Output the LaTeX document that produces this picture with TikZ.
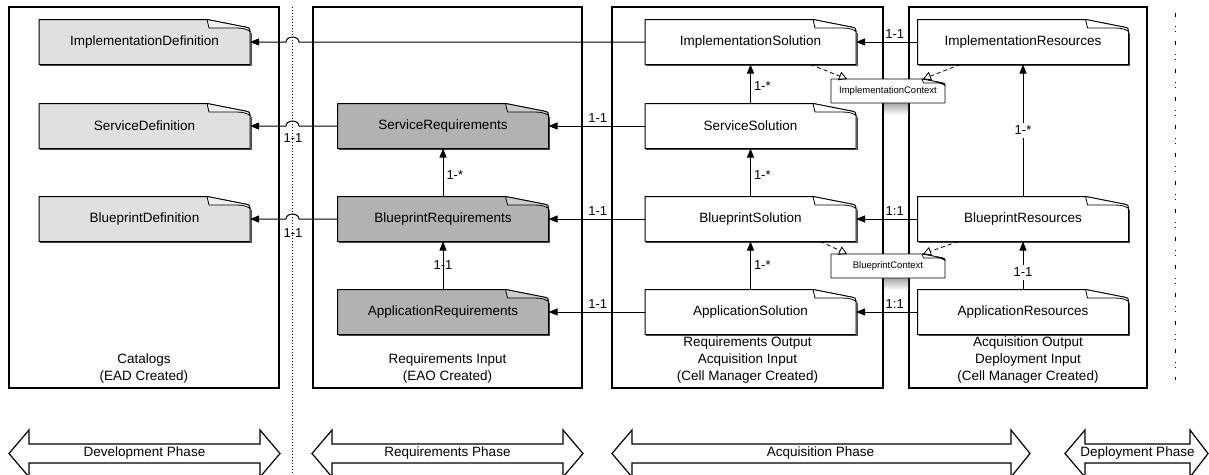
\documentclass[tikz,border=0pt]{standalone}
\usepackage{fontspec}
\setmainfont{Liberation Sans}
\usetikzlibrary{arrows.meta}

\definecolor{catalogfill}{gray}{0.88}
\definecolor{catalogfold}{gray}{0.94}
\definecolor{reqfill}{gray}{0.70}
\definecolor{reqfold}{gray}{0.80}

\tikzset{
  container/.style={draw, line width=1.2pt, rectangle, inner sep=0pt, outer sep=0pt},
  boxtext/.style={align=center, font=\fontsize{13.5}{17}\selectfont, inner sep=0pt},
  notetext/.style={rectangle, minimum width=211pt, minimum height=45pt, inner sep=0pt, outer sep=0pt,
                   font=\fontsize{13.5}{16}\selectfont},
  ctxtext/.style={rectangle, minimum width=114pt, minimum height=24pt, inner sep=0pt, outer sep=0pt,
                  font=\fontsize{9.5}{11}\selectfont},
  conn/.style={line width=1pt, -{Triangle[length=9pt,width=7pt]}},
  realize/.style={line width=0.8pt, dash pattern=on 4pt off 3pt,
                  -{Triangle[open,length=8pt,width=9pt,line width=0.8pt]}},
  lbl/.style={font=\fontsize{13}{15}\selectfont, inner sep=1pt},
  phase/.style={draw, line width=1.2pt, fill=white, line join=miter},
  phasetext/.style={font=\fontsize{13.5}{16}\selectfont, inner sep=0pt},
}

% document-style note with a curled top-right corner
% #1 name, #2 cx, #3 cy, #4 fill, #5 fold fill, #6 text
\newcommand\docnote[6]{%
  \begin{scope}[shift={(#2,#3)}]
    \draw[black!70, line width=1pt] (-104.5,23.5) -- (106.5,23.5) -- (106.5,-9.5);
    \filldraw[fill=#4, line width=1pt, line join=round]
      (-105.5,-22.5) -- (62.5,-22.5) -- (101.5,-14.8)
      .. controls (105,-14.2) and (105.5,-13) .. (105.5,-10.5)
      -- (105.5,22.5) -- (-105.5,22.5) -- cycle;
    \filldraw[fill=#5, line width=0.8pt, line join=round]
      (62.5,-22.5) .. controls (63.3,-18) .. (64.5,-14) -- (92,-14)
      .. controls (99,-14) and (103,-12.5) .. (105.5,-10.5)
      .. controls (105.5,-13) and (105,-14.2) .. (101.5,-14.8) -- cycle;
  \end{scope}
  \node[notetext] (#1) at (#2,#3) {\raisebox{-2.5pt}{#6}};
}

% small context note; #1 name, #2 cx, #3 cy, #4 text
\newcommand\ctxnote[4]{%
  \shade[top color=black!35, bottom color=white] (884,#3+12) rectangle (908,#3+24);
  \begin{scope}[shift={(#2,#3)}]
    \filldraw[fill=white, line width=0.9pt, line join=round]
      (-57,-12) -- (34,-12) -- (54,-8.2) .. controls (56.6,-7.8) and (57,-7) .. (57,-5.5)
      -- (57,12) -- (-57,12) -- cycle;
    \filldraw[fill=white, line width=0.7pt, line join=round]
      (34,-12) .. controls (34.5,-10) .. (35.5,-8) -- (49,-8)
      .. controls (53,-8) and (55.5,-7) .. (57,-5.5)
      .. controls (57,-7) and (56.6,-7.8) .. (54,-8.2) -- cycle;
  \end{scope}
  \node[ctxtext] (#1) at (#2,#3) {\raisebox{-1pt}{#4}};
}

\begin{document}
\begin{tikzpicture}[x=1pt,y=-1pt]
\useasboundingbox (0,0) rectangle (1209,474);

% containers
\node[container, minimum width=270pt, minimum height=381pt] (catalogs) at (144,197.5) {};
\node[container, minimum width=269pt, minimum height=381pt] (reqin) at (447.5,197.5) {};
\node[container, minimum width=271pt, minimum height=381pt] (reqout) at (747.5,197.5) {};
\node[container, minimum width=238pt, minimum height=381pt] (acqout) at (1028,197.5) {};

\node[boxtext] (catalogsText) at (144,368.5) {Catalogs\\(EAD Created)};
\node[boxtext] (reqinText) at (447.5,368.5) {Requirements Input\\(EAO Created)};
\node[boxtext] (reqoutText) at (747.5,360) {Requirements Output\\Acquisition Input\\(Cell Manager Created)};
\node[boxtext] (acqoutText) at (1028,360) {Acquisition Output\\Deployment Input\\(Cell Manager Created)};

% phase separators
\draw[line width=1pt, dash pattern=on 1pt off 2pt] (292.5,7) -- (292.5,474);
\draw[line width=0.8pt, dash pattern=on 4pt off 9pt on 1pt off 4pt on 1pt off 9pt] (1175,13) -- (1175,380);

% catalog entries
\docnote{ImplDef}{144.5}{42}{catalogfill}{catalogfold}{ImplementationDefinition}
\docnote{ServDef}{144.5}{126}{catalogfill}{catalogfold}{ServiceDefinition}
\docnote{BlueDef}{144.5}{219}{catalogfill}{catalogfold}{BlueprintDefinition}

% requirements
\docnote{ServReq}{443}{126}{reqfill}{reqfold}{ServiceRequirements}
\docnote{BlueReq}{443}{219}{reqfill}{reqfold}{BlueprintRequirements}
\docnote{AppReq}{443}{312}{reqfill}{reqfold}{ApplicationRequirements}

% solutions
\docnote{ImplSol}{750.5}{42}{white}{white}{ImplementationSolution}
\docnote{ServSol}{750.5}{126}{white}{white}{ServiceSolution}
\docnote{BlueSol}{750.5}{219}{white}{white}{BlueprintSolution}
\docnote{AppSol}{750.5}{312}{white}{white}{ApplicationSolution}

% resources
\docnote{ImplRes}{1023}{42}{white}{white}{ImplementationResources}
\docnote{BlueRes}{1023}{219}{white}{white}{BlueprintResources}
\docnote{AppRes}{1023}{312}{white}{white}{ApplicationResources}

% solutions -> requirements / definitions
\draw[conn] (ImplSol.west) -- (299,42)
  arc[start angle=0, end angle=180, x radius=6.5pt, y radius=5pt] -- (ImplDef.east);
\draw[conn] (ServSol.west) -- node[lbl, above=2pt, pos=0.49] (lServSR) {1-1} (ServReq.east);
\draw[conn] (BlueSol.west) -- node[lbl, above=2pt, pos=0.49] (lBlueSR) {1-1} (BlueReq.east);
\draw[conn] (AppSol.west) -- node[lbl, above=2pt, pos=0.49] (lAppSR) {1-1} (AppReq.east);

% requirements -> definitions
\draw[conn] (ServReq.west) -- (299,126)
  arc[start angle=0, end angle=180, x radius=6.5pt, y radius=5pt] -- (ServDef.east);
\node[lbl] (lServRD) at (293,138) {1-1};
\draw[conn] (BlueReq.west) -- (299,219)
  arc[start angle=0, end angle=180, x radius=6.5pt, y radius=5pt] -- (BlueDef.east);
\node[lbl] (lBlueRD) at (293,233) {1-1};

% resources -> solutions
\draw[conn] (ImplRes.west) -- node[lbl, above=2pt, pos=0.37] (lImplRS) {1-1} (ImplSol.east);
\draw[conn] (BlueRes.west) -- node[lbl, above=2pt, pos=0.37] (lBlueRS) {1:1} (BlueSol.east);
\draw[conn] (AppRes.west) -- node[lbl, above=2pt, pos=0.37] (lAppRS) {1:1} (AppSol.east);

% vertical compositions
\draw[conn] (ServSol.north) -- node[lbl, pos=0.45, anchor=west, xshift=2pt] (lSI) {1-*} (ImplSol.south);
\draw[conn] (BlueSol.north) -- node[lbl, pos=0.45, anchor=west, xshift=2pt] (lBS) {1-*} (ServSol.south);
\draw[conn] (AppSol.north) -- node[lbl, pos=0.51, anchor=west, xshift=2pt] (lAB) {1-*} (BlueSol.south);
\draw[conn] (BlueReq.north) -- node[lbl, pos=0.45, anchor=west, xshift=2pt] (lBRSR) {1-*} (ServReq.south);
\draw[conn] (AppReq.north) -- node[lbl, pos=0.5] (lARBR) {1-1} (BlueReq.south);
\draw[conn] (BlueRes.north) -- node[lbl, pos=0.5, fill=white, inner sep=3pt] (lBRIR) {1-*} (ImplRes.south);
\draw[conn] (AppRes.north) -- node[lbl, pos=0.36, fill=white, inner sep=3pt] (lARBRes) {1-1} (BlueRes.south);

% context notes
\ctxnote{ImplCtx}{888}{91}{ImplementationContext}
\ctxnote{BlueCtx}{888}{266}{BlueprintContext}

\draw[realize] ([xshift=60pt]ImplSol.south) -- ([xshift=-41pt]ImplCtx.north);
\draw[realize] ([xshift=-63pt]ImplRes.south) -- ([xshift=35pt]ImplCtx.north);
\draw[realize] ([xshift=70pt]BlueSol.south) -- ([xshift=-41pt]BlueCtx.north);
\draw[realize] ([xshift=-65pt]BlueRes.south) -- ([xshift=35pt]BlueCtx.north);

% phase arrows
\draw[phase] (9,453.5) -- (29,430) -- (29,444) -- (260,444) -- (260,430) -- (280,453.5)
  -- (260,477) -- (260,463) -- (29,463) -- (29,477) -- cycle;
\node[phasetext] (devPhase) at (144.5,453.5) {Development Phase};

\draw[phase] (312,453.5) -- (332,430) -- (332,444) -- (563,444) -- (563,430) -- (583,453.5)
  -- (563,477) -- (563,463) -- (332,463) -- (332,477) -- cycle;
\node[phasetext] (reqPhase) at (447.5,453.5) {Requirements Phase};

\draw[phase] (612,453.5) -- (632,430) -- (632,444) -- (1011,444) -- (1011,430) -- (1030,453.5)
  -- (1011,477) -- (1011,463) -- (632,463) -- (632,477) -- cycle;
\node[phasetext] (acqPhase) at (820.5,453.5) {Acquisition Phase};

\draw[phase] (1065,453.5) -- (1085,430) -- (1085,444) -- (1190,444) -- (1190,430) -- (1208,453.5)
  -- (1190,477) -- (1190,463) -- (1085,463) -- (1085,477) -- cycle;
\node[phasetext] (depPhase) at (1137.5,453.5) {Deployment Phase};
\end{tikzpicture}
\end{document}
